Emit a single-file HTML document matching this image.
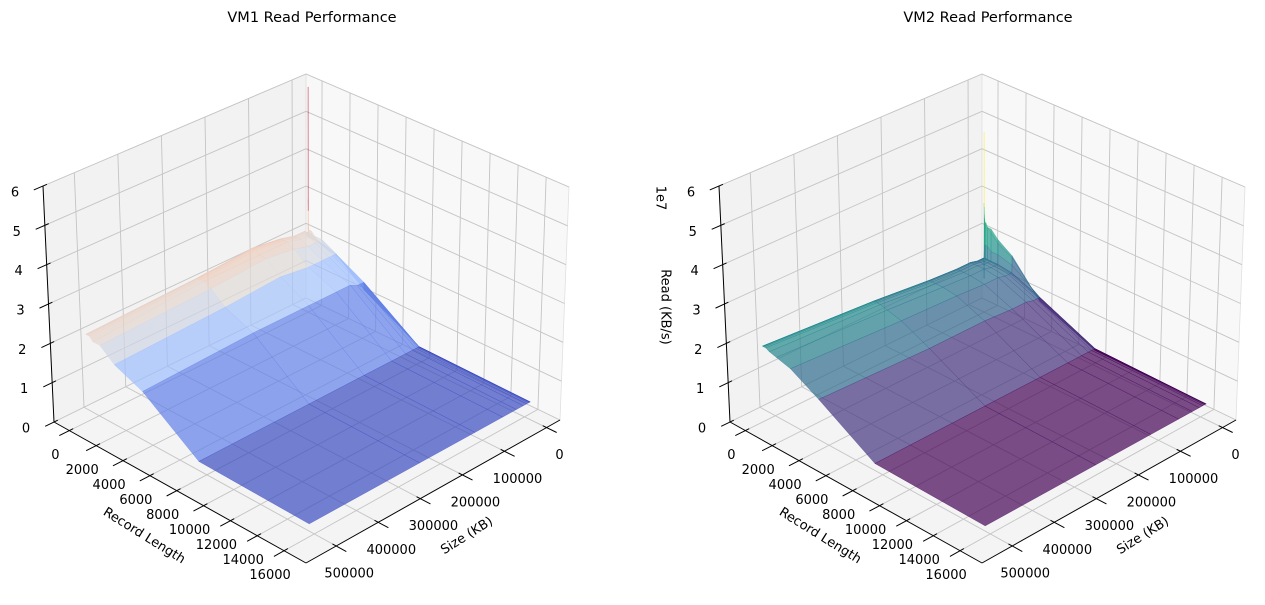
<!DOCTYPE html>
<html><head><meta charset="utf-8"><style>
html,body{margin:0;padding:0;background:#fff;}
svg{display:block;font-family:"DejaVu Sans","Liberation Sans",sans-serif;}
</style></head><body>
<svg id="chart" width="1265" height="605" viewBox="0 0 1265 605" xmlns="http://www.w3.org/2000/svg">
<rect width="1265" height="605" fill="#fff"/>
<g id="p1"></g>
<g id="p2"></g>
</svg>
<script>
// ---- data (Read in units of 1e7 KB/s) ----
const recordLengths = [4,8,16,32,64,128,256,512,1024,2048,4096,8192,16384];
const fileSizes = [64,128,256,512,1024,2048,4096,8192,16384,32768,65536,131072,262144,524288];
const rlTicks = [0,2000,4000,6000,8000,10000,12000,14000,16000];
const sizeTicks = [0,100000,200000,300000,400000,500000];
const zTicks = [0,1,2,3,4,5,6];
const vm1Read = [
 [6.0,3.0,2.5,2.3,2.2,2.2,2.2,2.1,2.1,1.9,1.3,0.5,0.45],
 [3.0,2.7,2.3,2.2,2.1,2.1,2.1,2.1,2.1,1.9,1.3,0.5,0.45],
 [2.3,2.2,2.1,2.0,2.0,2.0,2.0,2.0,2.0,1.9,1.4,0.5,0.45],
 [2.0,2.0,2.0,2.0,2.0,2.0,2.0,2.0,2.0,1.9,1.5,0.5,0.45],
 [2.0,2.0,2.0,2.0,2.0,2.0,2.0,2.0,2.0,1.9,1.5,0.5,0.45],
 [2.1,2.1,2.1,2.1,2.1,2.1,2.1,2.1,2.0,1.9,1.5,0.5,0.45],
 [2.1,2.1,2.1,2.1,2.1,2.1,2.1,2.1,2.0,1.9,1.5,0.5,0.45],
 [2.2,2.2,2.2,2.2,2.2,2.2,2.2,2.2,2.1,1.9,1.5,0.5,0.45],
 [2.2,2.2,2.2,2.2,2.2,2.2,2.2,2.2,2.1,1.9,1.5,0.5,0.45],
 [2.2,2.2,2.2,2.2,2.2,2.2,2.2,2.2,2.1,1.9,1.6,0.5,0.45],
 [2.3,2.3,2.3,2.3,2.3,2.3,2.3,2.3,2.2,1.9,1.6,0.5,0.45],
 [2.4,2.4,2.4,2.4,2.4,2.4,2.4,2.3,2.3,2.0,1.6,0.5,0.45],
 [2.3,2.3,2.3,2.3,2.3,2.3,2.3,2.3,2.2,1.9,1.6,0.5,0.45],
 [2.2,2.2,2.2,2.2,2.2,2.2,2.2,2.1,2.1,1.8,1.5,0.5,0.45]
];
const vm2Read = [
 [4.8,2.9,2.7,2.5,2.4,2.4,2.3,2.3,2.1,1.85,1.0,0.4,0.4],
 [2.9,2.8,2.6,2.5,2.4,2.3,2.3,2.2,2.0,1.8,1.0,0.4,0.4],
 [0.9,1.3,1.6,1.8,1.8,1.8,1.8,1.7,1.7,1.6,1.1,0.45,0.4],
 [1.3,1.4,1.45,1.45,1.45,1.45,1.45,1.45,1.45,1.4,1.1,0.45,0.4],
 [1.4,1.45,1.45,1.45,1.45,1.45,1.45,1.45,1.45,1.4,1.1,0.45,0.4],
 [1.45,1.45,1.45,1.45,1.45,1.45,1.45,1.45,1.45,1.4,1.1,0.45,0.4],
 [1.45,1.45,1.45,1.45,1.45,1.45,1.45,1.45,1.45,1.4,1.1,0.45,0.4],
 [1.45,1.45,1.45,1.45,1.45,1.45,1.45,1.45,1.45,1.4,1.1,0.45,0.4],
 [1.45,1.45,1.45,1.45,1.45,1.45,1.45,1.45,1.45,1.4,1.1,0.45,0.4],
 [1.5,1.5,1.5,1.5,1.5,1.5,1.5,1.5,1.5,1.45,1.15,0.45,0.4],
 [1.5,1.5,1.5,1.5,1.5,1.5,1.5,1.5,1.5,1.45,1.15,0.45,0.4],
 [1.55,1.55,1.55,1.55,1.55,1.55,1.55,1.55,1.55,1.5,1.2,0.45,0.4],
 [1.7,1.7,1.7,1.7,1.7,1.7,1.7,1.7,1.65,1.55,1.2,0.45,0.4],
 [1.9,1.9,1.9,1.9,1.9,1.9,1.9,1.85,1.8,1.7,1.3,0.45,0.4]
];

const rlMin=-1146, rlMax=17633, szMin=-32000, szMax=571860, zMax=6;
const coolwarm=["#3b4cc0","#4f69d9","#6788ee","#84a7fc","#a3c2fe","#dddcdc","#f2cbb7","#f7ac8e","#ee8468","#d65244","#b40426"];
const viridis=["#440154","#482475","#414487","#355f8d","#2a788e","#21918c","#22a884","#44bf70","#7ad151","#bddf26","#fde725"];
function hex(c){return [parseInt(c.slice(1,3),16),parseInt(c.slice(3,5),16),parseInt(c.slice(5,7),16)];}
function cmap(stops,t){t=Math.max(0,Math.min(1,t));const f=t*(stops.length-1);const i=Math.min(stops.length-2,Math.floor(f));const r=f-i;const a=hex(stops[i]),b=hex(stops[i+1]);return "rgb("+a.map((x,k)=>Math.round(x+(b[k]-x)*r)).join(",")+")";}

const NS="http://www.w3.org/2000/svg";
function mk(parent,tag,attrs){const e=document.createElementNS(NS,tag);for(const k in attrs)e.setAttribute(k,attrs[k]);parent.appendChild(e);return e;}

function makePanel(gid,dx,title,data,stops,showZLabel){
  const g=document.getElementById(gid);
  const F={b:[306+dx,298],l:[54+dx,422],f:[306+dx,563],r:[560+dx,420]};
  const T={b:[306+dx,74],l:[43+dx,186],f:[306+dx,313],r:[569+dx,187]};
  function bil(C,u,v){return [0,1].map(k=>(1-u)*(1-v)*C.b[k]+(1-u)*v*C.l[k]+u*v*C.f[k]+u*(1-v)*C.r[k]);}
  function P(u,v,w){const a=bil(F,u,v),b=bil(T,u,v);return [a[0]+w*(b[0]-a[0]),a[1]+w*(b[1]-a[1])];}
  const U=x=>(x-rlMin)/(rlMax-rlMin), V=s=>(s-szMin)/(szMax-szMin), W=z=>z/zMax;
  const pts=a=>a.map(p=>p[0].toFixed(1)+","+p[1].toFixed(1)).join(" ");
  const lp=mk(g,"polygon",{points:pts([P(0,0,0),P(0,1,0),P(0,1,1),P(0,0,1)]),fill:"#f2f2f2",stroke:"#e0e0e0","stroke-width":0.8});
  
  
  const rp=mk(g,"polygon",{points:pts([P(0,0,0),P(1,0,0),P(1,0,1),P(0,0,1)]),fill:"#f8f8f8",stroke:"#e0e0e0","stroke-width":0.8});
  
  
  const fp=mk(g,"polygon",{points:pts([P(0,0,0),P(0,1,0),P(1,1,0),P(1,0,0)]),fill:"#f4f4f4",stroke:"none"});
  
  
  const grid=mk(g,"g",{stroke:"#c4c4c4","stroke-width":0.9,fill:"none"});
  
  
  const line=(par,a,b)=>mk(par,"line",{x1:a[0],y1:a[1],x2:b[0],y2:b[1]});
  rlTicks.forEach(t=>{const u=U(t);line(grid,P(u,0,0),P(u,1,0));line(grid,P(u,0,0),P(u,0,1));});
  sizeTicks.forEach(t=>{const v=V(t);line(grid,P(0,v,0),P(1,v,0));line(grid,P(0,v,0),P(0,v,1));});
  zTicks.forEach(t=>{const w=W(t);line(grid,P(0,0,w),P(0,1,w));line(grid,P(0,0,w),P(1,0,w));});
  const facets=[];
  for(let i=0;i<fileSizes.length-1;i++)for(let j=0;j<recordLengths.length-1;j++){
    const c=[[i,j],[i,j+1],[i+1,j+1],[i+1,j]];
    const avg=c.reduce((s,q)=>s+data[q[0]][q[1]],0)/4;
    const p=c.map(q=>[U(recordLengths[q[1]]),V(fileSizes[q[0]]),W(data[q[0]][q[1]])]);
    const depth=p.reduce((s,q)=>s+q[0]+q[1]+0.3*q[2],0)/4;
    facets.push({p,avg,depth});
  }
  const mn=Math.min(...facets.map(f=>f.avg)),mx=Math.max(...facets.map(f=>f.avg));
  facets.sort((a,b)=>a.depth-b.depth);
  const sg=mk(g,"g",{"fill-opacity":0.7});
  
  
  facets.forEach(f=>{const col=cmap(stops,(f.avg-mn)/(mx-mn));
    const e=mk(sg,"polygon",{points:pts(f.p.map(q=>P(q[0],q[1],q[2]))),fill:col,stroke:col,"stroke-width":0.4,"stroke-opacity":0.7});
    
    
  });
  const ax=mk(g,"g",{stroke:"#000","stroke-width":1,fill:"none"});
  
  
  line(ax,P(0,1,0),P(1,1,0));line(ax,P(1,1,0),P(1,0,0));line(ax,P(0,1,0),P(0,1,1));
  const tx=mk(g,"g",{"font-size":"13px",fill:"#000","text-anchor":"middle"});
  
  
  const txt=(par,x,y,s,extra)=>{const e=mk(par,"text",Object.assign({x:x.toFixed(1),y:y.toFixed(1),"dominant-baseline":"central"},extra||{}));e.textContent=s;return e;};
  rlTicks.forEach(t=>{const u=U(t);line(ax,P(u,0.985,0),P(u,1.04,0));const q=P(u,1,0);
    const e=txt(tx,q[0]-14,q[1]+25,String(t));});
  sizeTicks.forEach(t=>{const v=V(t);line(ax,P(0.985,v,0),P(1.04,v,0));const q=P(1,v,0);
    const e=txt(tx,q[0]+13,q[1]+28,String(t));});
  zTicks.forEach(t=>{const w=W(t);line(ax,P(0,0.985,w),P(0,1.035,w));const q=P(0,1,w);
    const e=txt(tx,q[0]-28,q[1]+7,String(t));});
  const ti=txt(g,312+dx,18,title,{"font-size":"14.5px","text-anchor":"middle"});
  
  
  const rl=txt(g,144+dx,536,"Record Length",{"font-size":"13px","text-anchor":"middle",transform:"rotate(32 "+(144+dx)+" 536)"});
  
  
  const sz=txt(g,467+dx,536,"Size (KB)",{"font-size":"13px","text-anchor":"middle",transform:"rotate(-32 "+(467+dx)+" 536)"});
  
  
  if(showZLabel){
    const e1=txt(g,660,198,"1e7",{"font-size":"13px","text-anchor":"middle",transform:"rotate(90 660 198)"});
    
    
    const e2=txt(g,665,307,"Read (KB/s)",{"font-size":"13px","text-anchor":"middle",transform:"rotate(90 665 307)"});
    
    
  }
}
makePanel("p1",0,"VM1 Read Performance",vm1Read,coolwarm,false);
makePanel("p2",676,"VM2 Read Performance",vm2Read,viridis,true);
</script>
</body></html>
